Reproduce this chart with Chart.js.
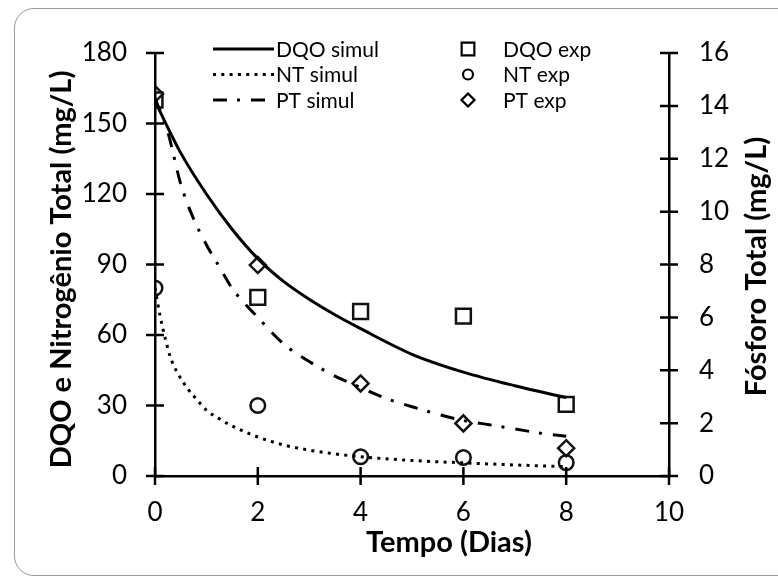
<!DOCTYPE html>
<html>
<head>
<meta charset="utf-8">
<script src="https://cdn.jsdelivr.net/npm/chart.js@4.4.1/dist/chart.umd.min.js"></script>
<style>
  html, body { margin: 0; padding: 0; background: #fff; }
  #wrap { position: relative; width: 778px; height: 579px; overflow: hidden; }
  #frame { position: absolute; left: 14px; top: 8px; width: 790px; height: 568px;
           border: 1.5px solid #9a9a9a; border-radius: 20px; box-sizing: border-box; }
  canvas { position: absolute; left: 0; top: 0; }
</style>
</head>
<body>
<div id="wrap">
  <div id="frame"></div>
  <canvas id="c" width="778" height="579"></canvas>
</div>
<script>
// ---- data ----
const expDays = [0, 2, 4, 6, 8];
const dqoExp = [160, 76, 70, 68, 30.5];
const ntExp  = [80, 30, 8.2, 7.9, 5.7];
const ptExp  = [14.45, 7.98, 3.5, 1.99, 1.05];

const dqoSimDays = [0, 0.5, 1, 1.5, 2, 2.5, 3, 3.5, 4, 5, 6, 7, 8];
const dqoSim     = [159.5, 137.5, 120, 105, 92.5, 82.8, 75.2, 68.6, 62.7, 51.8, 44.2, 38.4, 33.4];

const ntSimDays = [0, 0.1, 0.2, 0.3, 0.45, 0.65, 0.85, 1, 1.25, 1.5, 2, 2.5, 3, 3.5, 4, 5, 6, 7, 8];
const ntSim     = [80, 68, 58.5, 50.5, 43.4, 36.8, 31.6, 28, 24.4, 21.3, 16.6, 13.2, 11, 9.4, 8.2, 6.6, 5.6, 4.7, 4.0];

const ptSimDays = [0, 0.25, 0.5, 0.75, 1, 1.25, 1.5, 2, 2.5, 3, 3.5, 4, 4.5, 5, 5.5, 6, 6.5, 7, 7.5, 8];
const ptSim     = [14.3, 13.0, 11.05, 9.73, 8.75, 7.92, 7.1, 6.0, 5.0, 4.33, 3.78, 3.35, 2.93, 2.62, 2.34, 2.1, 1.94, 1.78, 1.62, 1.5];

const xTicks = { min: 0, max: 10, step: 2 };
const yLeftTicks = { min: 0, max: 180, step: 30 };
const yRightTicks = { min: 0, max: 16, step: 2 };

const labels = {
  dqoSim: 'DQO simul', ntSim: 'NT simul', ptSim: 'PT simul',
  dqoExp: 'DQO exp', ntExp: 'NT exp', ptExp: 'PT exp'
};
const xTitle = 'Tempo (Dias)';
const yLeftTitle = 'DQO e Nitrogênio Total (mg/L)';
const yRightTitle = 'Fósforo Total (mg/L)';

// ---- build ----
const pts = (xs, ys) => xs.map((x, i) => ({ x: x, y: ys[i] }));
const FONT = 'Lato';
const TITLE_SIZE = 29;
const TICK_SIZE = 26;
const DOTTED = [3, 5.3];
const DASHDOT = [14, 10, 3, 11];

const datasets = [
  { label: labels.dqoSim, data: pts(dqoSimDays, dqoSim), yAxisID: 'y', showLine: true,
    borderColor: '#000', borderWidth: 3, pointRadius: 0, cubicInterpolationMode: 'monotone', fill: false },
  { label: labels.ntSim, data: pts(ntSimDays, ntSim), yAxisID: 'y', showLine: true,
    borderColor: '#000', borderWidth: 3, borderDash: DOTTED, pointRadius: 0, cubicInterpolationMode: 'monotone', fill: false },
  { label: labels.ptSim, data: pts(ptSimDays, ptSim), yAxisID: 'y2', showLine: true,
    borderColor: '#000', borderWidth: 3, borderDash: DASHDOT, pointRadius: 0, cubicInterpolationMode: 'monotone', fill: false },
  { label: labels.dqoExp, data: pts(expDays, dqoExp), yAxisID: 'y', showLine: false,
    pointStyle: 'rect', pointRadius: 10.5, pointBorderWidth: 2.5, pointBorderColor: '#111', pointBackgroundColor: 'rgba(0,0,0,0)' },
  { label: labels.ntExp, data: pts(expDays, ntExp), yAxisID: 'y', showLine: false,
    pointStyle: 'circle', pointRadius: 7.3, pointBorderWidth: 2.5, pointBorderColor: '#111', pointBackgroundColor: 'rgba(0,0,0,0)' },
  { label: labels.ptExp, data: pts(expDays, ptExp), yAxisID: 'y2', showLine: false,
    pointStyle: 'rectRot', pointRadius: 8, pointBorderWidth: 2.5, pointBorderColor: '#111', pointBackgroundColor: 'rgba(0,0,0,0)' }
];

const crossTicks = {
  id: 'crossTicks',
  afterDraw(chart) {
    const ctx = chart.ctx, ca = chart.chartArea, L = 9;
    ctx.save();
    ctx.strokeStyle = '#000';
    ctx.lineWidth = 2.5;
    ctx.beginPath();
    chart.scales.y.ticks.forEach(t => {
      const p = chart.scales.y.getPixelForValue(t.value);
      ctx.moveTo(ca.left - L, p); ctx.lineTo(ca.left + L, p);
    });
    chart.scales.y2.ticks.forEach(t => {
      const p = chart.scales.y2.getPixelForValue(t.value);
      ctx.moveTo(ca.right - L, p); ctx.lineTo(ca.right + L, p);
    });
    chart.scales.x.ticks.forEach(t => {
      const p = chart.scales.x.getPixelForValue(t.value);
      ctx.moveTo(p, ca.bottom - L); ctx.lineTo(p, ca.bottom + L);
    });
    ctx.stroke();
    ctx.restore();
  }
};

const axisTitles = {
  id: 'axisTitles',
  afterDraw(chart) {
    const ctx = chart.ctx, ca = chart.chartArea;
    ctx.save();
    ctx.font = 'bold ' + TITLE_SIZE + 'px ' + FONT;
    ctx.fillStyle = '#000';
    ctx.textAlign = 'center';
    ctx.textBaseline = 'middle';
    // x title
    ctx.fillText(xTitle, ca.left + 294, ca.bottom + 67);
    // left title
    ctx.save();
    ctx.translate(ca.left - 93, (ca.top + ca.bottom) / 2 + 5);
    ctx.rotate(-Math.PI / 2);
    ctx.fillText(yLeftTitle, 0, 0);
    ctx.restore();
    // right title
    ctx.save();
    ctx.translate(ca.right + 88, (ca.top + ca.bottom) / 2 + 2);
    ctx.rotate(-Math.PI / 2);
    ctx.fillText(yRightTitle, 0, 0);
    ctx.restore();
    ctx.restore();
  }
};

const customLegend = {
  id: 'customLegend',
  afterDraw(chart) {
    const ctx = chart.ctx, ca = chart.chartArea, ds = chart.data.datasets;
    ctx.save();
    ctx.font = '21px ' + FONT;
    ctx.textBaseline = 'middle';
    ctx.textAlign = 'left';
    const rowY = [ca.top - 4, ca.top + 21.5, ca.top + 47];
    for (let i = 0; i < 3; i++) {
      const d = ds[i];
      ctx.beginPath();
      ctx.setLineDash(d.borderDash || []);
      ctx.lineWidth = 3;
      ctx.strokeStyle = '#000';
      ctx.moveTo(ca.left + 58, rowY[i]);
      ctx.lineTo(ca.left + 119, rowY[i]);
      ctx.stroke();
      ctx.setLineDash([]);
      ctx.fillStyle = '#000';
      ctx.fillText(d.label, ca.left + 121, rowY[i] + 1);
    }
    const sizes = [9, 5, 6.5];
    for (let i = 0; i < 3; i++) {
      const d = ds[i + 3];
      ctx.fillStyle = 'rgba(0,0,0,0)';
      ctx.strokeStyle = '#000';
      ctx.lineWidth = 2.2;
      Chart.helpers.drawPoint(ctx, {
        pointStyle: d.pointStyle, radius: sizes[i], borderWidth: 2.2, rotation: 0
      }, ca.left + 313, rowY[i]);
      ctx.fillStyle = '#000';
      ctx.fillText(d.label, ca.left + 348, rowY[i] + 1);
    }
    ctx.restore();
  }
};

new Chart(document.getElementById('c'), {
  type: 'scatter',
  data: { datasets: datasets },
  options: {
    responsive: false,
    animation: false,
    devicePixelRatio: 1,
    layout: { padding: { top: 53, left: 0, right: 0, bottom: 0 } },
    plugins: { legend: { display: false }, tooltip: { enabled: false } },
    scales: {
      x: {
        type: 'linear', position: 'bottom', min: xTicks.min, max: xTicks.max,
        afterFit: s => { s.height = 103; },
        ticks: { stepSize: xTicks.step, color: '#000', font: { family: FONT, size: TICK_SIZE }, padding: 21 },
        grid: { display: false, drawTicks: false },
        border: { display: true, color: '#000', width: 2.5 },
        title: { display: false, text: xTitle }
      },
      y: {
        type: 'linear', position: 'left', min: yLeftTicks.min, max: yLeftTicks.max,
        afterFit: s => { s.width = 155; },
        ticks: { stepSize: yLeftTicks.step, color: '#000', font: { family: FONT, size: TICK_SIZE }, padding: 28 },
        grid: { display: false, drawTicks: false },
        border: { display: true, color: '#000', width: 2.5 },
        title: { display: false, text: yLeftTitle }
      },
      y2: {
        type: 'linear', position: 'right', min: yRightTicks.min, max: yRightTicks.max,
        afterFit: s => { s.width = 109; },
        ticks: { stepSize: yRightTicks.step, color: '#000', font: { family: FONT, size: TICK_SIZE }, padding: 30 },
        grid: { display: false, drawTicks: false },
        border: { display: true, color: '#000', width: 2.5 },
        title: { display: false, text: yRightTitle }
      }
    }
  },
  plugins: [crossTicks, axisTitles, customLegend]
});
</script>
</body>
</html>
